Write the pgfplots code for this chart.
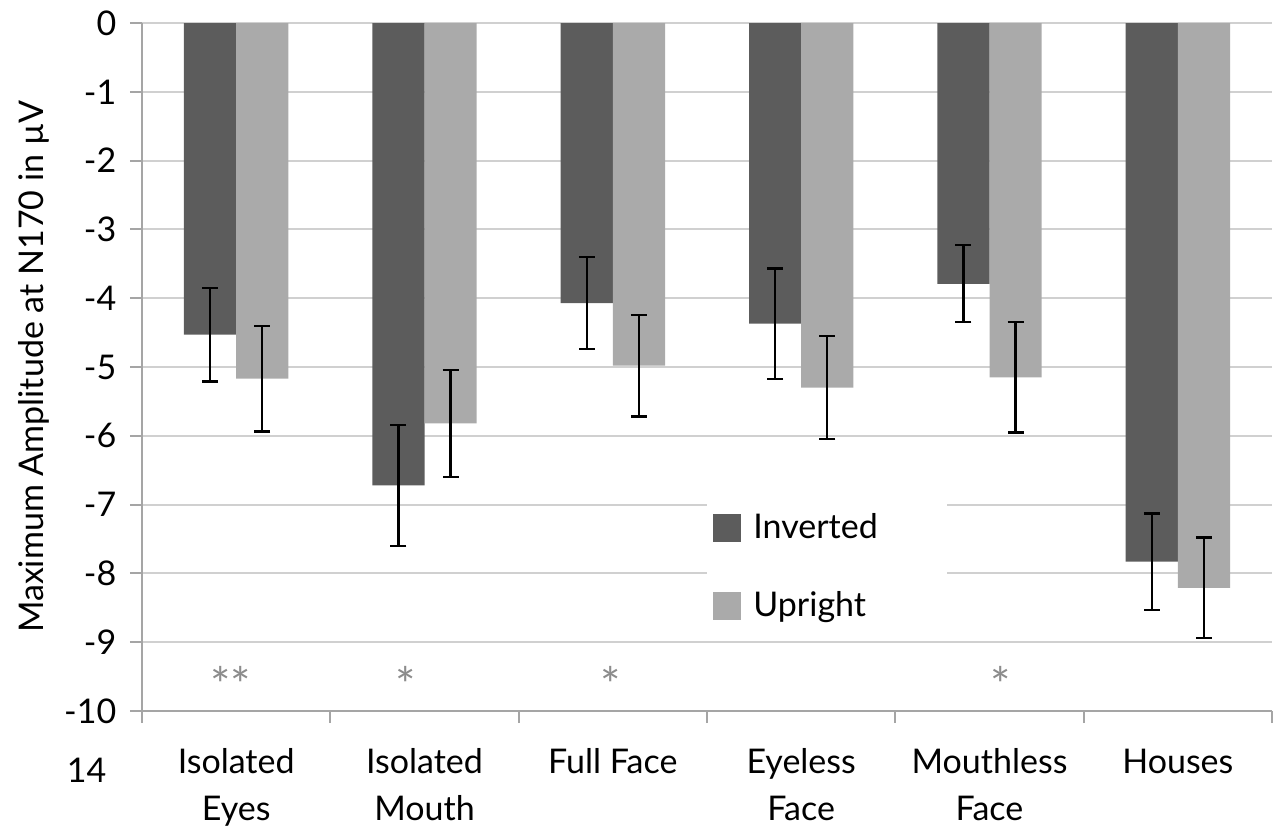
\documentclass[border=0pt]{standalone}
\usepackage{pgfplots}
\pgfplotsset{compat=1.18}
\usepackage{fontspec}
\setmainfont{Lato}
\definecolor{inv}{RGB}{92,92,92}
\definecolor{upr}{RGB}{170,170,170}
\definecolor{gridc}{RGB}{208,208,208}
\definecolor{axc}{RGB}{165,165,165}
\definecolor{star}{RGB}{140,140,140}
\pgfplotstableread{
x y e
0 -4.53 0.68
1 -6.72 0.88
2 -4.07 0.67
3 -4.37 0.80
4 -3.79 0.56
5 -7.83 0.70
}\inverted
\pgfplotstableread{
x y e
0 -5.17 0.77
1 -5.82 0.78
2 -4.98 0.74
3 -5.30 0.75
4 -5.15 0.80
5 -8.21 0.73
}\upright
\begin{document}
\fontsize{17}{23.5}\selectfont
\begin{tikzpicture}
\begin{axis}[name=ax, scale only axis, width=565pt, height=344pt,
  xmin=-0.5, xmax=5.5, ymin=-10, ymax=0,
  axis lines=left, axis line style={-, draw=axc, line width=1pt},
  ytick={-10,-9,-8,-7,-6,-5,-4,-3,-2,-1,0},
  yticklabels={-10,-9,-8,-7,-6,-5,-4,-3,-2,-1,0},
  ymajorgrids, major grid style={draw=gridc, line width=1pt},
  tick align=outside, major tick length=6pt,
  tick style={draw=axc, line width=1pt},
  xtick={-0.5,0.5,1.5,2.5,3.5,4.5,5.5}, xticklabels={},
  extra x ticks={0,1,2,3,4,5},
  extra x tick labels={{Isolated\\Eyes},{Isolated\\Mouth},{Full Face},{Eyeless\\Face},{Mouthless\\Face},{Houses}},
  extra x tick style={major tick length=0pt},
  xticklabel style={align=center, font=\fontsize{17}{23.5}\selectfont, yshift=-13pt},
  yticklabel style={font=\fontsize{17}{23.5}\selectfont, xshift=-1pt},
  ylabel={Maximum Amplitude at N170 in µV},
  ylabel style={font=\fontsize{17}{23.5}\selectfont},
  ylabel shift=-4pt,
  ybar=0pt, bar width=0.277,
  legend style={at={(axis cs:2.5,-7.91)}, anchor=west, draw=none, fill=white,
    font=\fontsize{17}{23.5}\selectfont, row sep=20pt, inner xsep=3pt, inner ysep=6pt,
    /tikz/every odd column/.append style={column sep=4pt}},
  legend cell align=left,
  legend image code/.code={\fill[#1, draw=none] (0pt,-7pt) rectangle (14pt,7pt);},
]
\addplot[fill=inv, draw=none, error bars/.cd, y dir=both, y explicit,
  error bar style={black, line width=1.2pt},
  error mark options={rotate=90, mark size=4pt, line width=1.2pt, black}]
  table[x=x, y=y, y error=e]{\inverted};
\addlegendentry{\makebox[92pt][l]{Inverted}}
\addplot[fill=upr, draw=none, error bars/.cd, y dir=both, y explicit,
  error bar style={black, line width=1.2pt},
  error mark options={rotate=90, mark size=4pt, line width=1.2pt, black}]
  table[x=x, y=y, y error=e]{\upright};
\addlegendentry{\makebox[92pt][l]{Upright}}
\begin{scope}[every node/.style={text=star, font=\fontsize{24}{24}\selectfont}]
\node at (axis cs:-0.03,-9.62) {**};
\node at (axis cs:0.9,-9.62) {*};
\node at (axis cs:1.99,-9.62) {*};
\node at (axis cs:4.06,-9.62) {*};
\end{scope}
\end{axis}
\node[anchor=east] at ([xshift=-12pt,yshift=-29.5pt]ax.south west) {14};
\pgfresetboundingbox
\path[use as bounding box] ([xshift=-71pt,yshift=-63pt]ax.south west) rectangle ([xshift=7pt,yshift=11.5pt]ax.north east);
\end{tikzpicture}
\end{document}
